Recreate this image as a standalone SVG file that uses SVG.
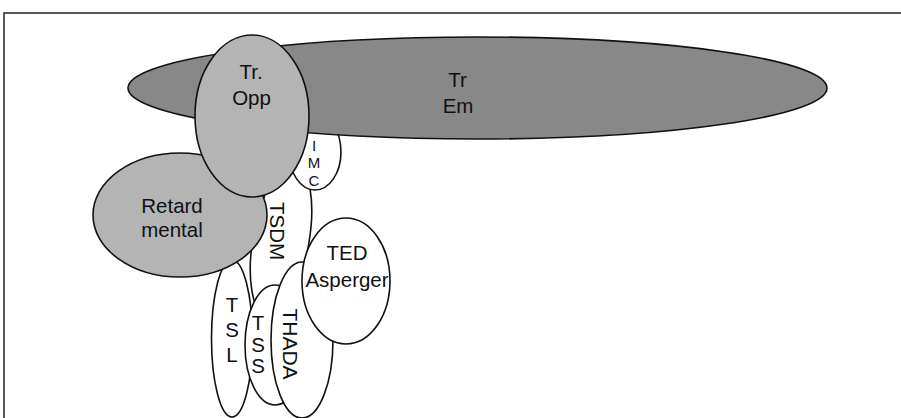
<svg xmlns="http://www.w3.org/2000/svg" width="901" height="418" viewBox="0 0 901 418">
  <style>
    .e { stroke: #111; stroke-width: 1.6; }
    .w { fill: #ffffff; }
    .d { fill: #888888; }
    .l { fill: #b4b4b4; }
    text { font-family: "Liberation Sans", Arial, sans-serif; font-size: 20.5px; fill: #111; text-anchor: middle; }
    .s { font-size: 15px; }
    .frame { stroke: #222; stroke-width: 1.5; fill: none; }
  </style>
  <rect width="901" height="418" fill="#ffffff"/>
  <path class="frame" d="M4,418 V13 H901"/>

  <g id="tsdm">
    <ellipse class="e w" cx="281" cy="240" rx="28" ry="78" transform="rotate(10 281 240)"/>
    <text transform="translate(270 231) rotate(90)">TSDM</text>
  </g>

  <g id="imc">
    <ellipse class="e w" cx="315" cy="152" rx="26" ry="38"/>
    <text class="s" x="314" y="151">I</text>
    <text class="s" x="314" y="168">M</text>
    <text class="s" x="314" y="186">C</text>
  </g>

  <g id="tr-em">
    <ellipse class="e d" cx="477.5" cy="88" rx="349.5" ry="51"/>
    <text x="457.5" y="87">Tr</text>
    <text x="458" y="113">Em</text>
  </g>

  <g id="tsl">
    <ellipse class="e w" cx="232" cy="338.5" rx="20.5" ry="78.5"/>
    <text x="232" y="312">T</text>
    <text x="232" y="337">S</text>
    <text x="232" y="362">L</text>
  </g>

  <g id="retard-mental">
    <ellipse class="e l" cx="180" cy="215" rx="87" ry="62"/>
    <text x="172" y="213">Retard</text>
    <text x="172" y="237">mental</text>
  </g>

  <g id="tr-opp">
    <ellipse class="e l" cx="252" cy="116" rx="57" ry="81"/>
    <text x="251" y="79">Tr.</text>
    <text x="251.5" y="105">Opp</text>
  </g>

  <g id="tss">
    <ellipse class="e w" cx="275" cy="345" rx="30" ry="60"/>
    <text x="258" y="330">T</text>
    <text x="258" y="352">S</text>
    <text x="258" y="373">S</text>
  </g>

  <g id="thada">
    <ellipse class="e w" cx="302" cy="340" rx="31" ry="78"/>
    <text transform="translate(283 344) rotate(90)" style="font-size:21px">THADA</text>
  </g>

  <g id="ted-asperger">
    <ellipse class="e w" cx="346" cy="281" rx="44" ry="63"/>
    <text x="347" y="260">TED</text>
    <text x="347" y="287">Asperger</text>
  </g>

  <g id="connectors"></g>
</svg>
